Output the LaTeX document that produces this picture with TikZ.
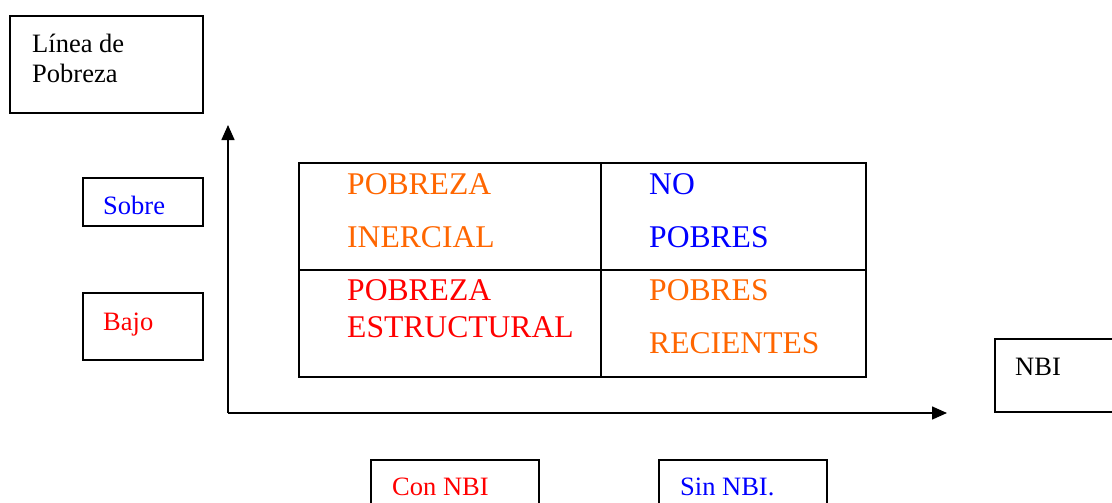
\documentclass[tikz,border=0pt]{standalone}
\usepackage{fontspec}
\setmainfont{Liberation Serif}
\usetikzlibrary{arrows.meta}
\definecolor{naranja}{HTML}{FF6600}
\definecolor{azul}{HTML}{0000FF}
\definecolor{rojo}{HTML}{FF0000}

\tikzset{
  caja/.style={line width=1.4pt},
  eje/.style={line width=1.5pt, -{Triangle[length=15pt,width=13pt]}},
  etiqueta/.style={anchor=base west, inner sep=0pt, font=\fontsize{26.5}{29}\selectfont},
  grande/.style={anchor=base west, inner sep=0pt, font=\fontsize{31.6}{37}\selectfont}
}

\begin{document}
\begin{tikzpicture}[x=1pt, y=-1pt]
  % --- PARAMETROS ---
  \pgfmathsetmacro{\ejeX}{228}      % origen de los ejes
  \pgfmathsetmacro{\ejeY}{413}
  \pgfmathsetmacro{\cuadIzq}{299}   % cuadro 2x2
  \pgfmathsetmacro{\cuadDer}{866}
  \pgfmathsetmacro{\cuadMedX}{601}
  \pgfmathsetmacro{\cuadArr}{163}
  \pgfmathsetmacro{\cuadMedY}{270}
  \pgfmathsetmacro{\cuadAba}{377}

  \useasboundingbox (0,0) rectangle (1112,503);
  \clip (0,0) rectangle (1112,503);

  % Caja: linea de pobreza
  \draw[caja] (10,16) rectangle (203,113);
  \node[etiqueta] (lp1) at (32,53) {Línea de};
  \node[etiqueta] (lp2) at (32,82) {Pobreza};

  % Ejes
  \coordinate (origen) at (\ejeX,\ejeY);
  \coordinate (puntaY) at (\ejeX,125);
  \coordinate (puntaX) at (947,\ejeY);
  \draw[eje] (origen) -- (puntaY);
  \draw[eje] (origen) -- (puntaX);

  % Sobre / Bajo
  \draw[caja] (83,178) rectangle (203,226);
  \node[etiqueta, azul] (sobre) at (103,214) {Sobre};
  \draw[caja] (83,293) rectangle (203,360);
  \node[etiqueta, rojo] (bajo) at (103,330) {Bajo};

  % Cuadro 2x2
  \draw[caja] (\cuadIzq,\cuadArr) rectangle (\cuadDer,\cuadAba);
  \draw[caja] (\cuadMedX,\cuadArr) -- (\cuadMedX,\cuadAba);
  \draw[caja] (\cuadIzq,\cuadMedY) -- (\cuadDer,\cuadMedY);

  \node[grande, naranja] (inercial1) at (347,194) {POBREZA};
  \node[grande, naranja] (inercial2) at (347,247) {INERCIAL};
  \node[grande, azul] (nopobres1) at (649,194) {NO};
  \node[grande, azul] (nopobres2) at (649,247) {POBRES};
  \node[grande, rojo] (estructural1) at (347,300) {POBREZA};
  \node[grande, rojo] (estructural2) at (347,337) {ESTRUCTURAL};
  \node[grande, naranja] (recientes1) at (649,300) {POBRES};
  \node[grande, naranja] (recientes2) at (649,353) {RECIENTES};

  % NBI (cortadas por el borde)
  \draw[caja] (995,339) rectangle (1130,412);
  \node[etiqueta] (nbi) at (1015,375) {NBI};
  \draw[caja] (371,460) rectangle (539,520);
  \node[etiqueta, rojo] (connbi) at (392,495) {Con NBI};
  \draw[caja] (659,460) rectangle (827,520);
  \node[etiqueta, azul] (sinnbi) at (680,495) {Sin NBI.};
\end{tikzpicture}
\end{document}
